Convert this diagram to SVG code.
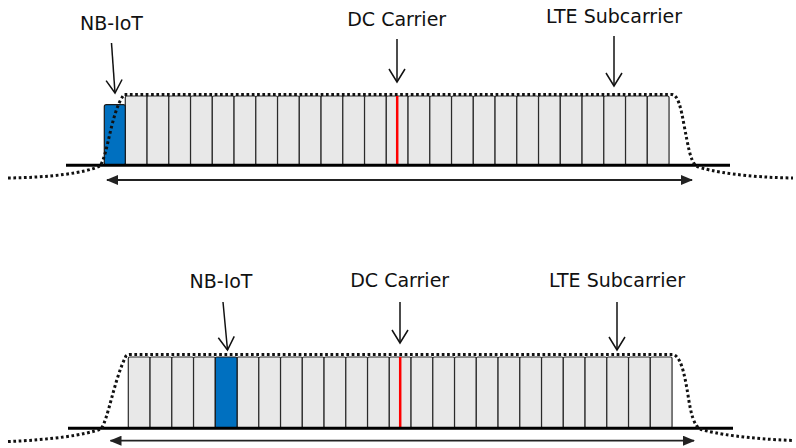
<svg xmlns="http://www.w3.org/2000/svg" xmlns:xlink="http://www.w3.org/1999/xlink" width="796" height="448" viewBox="0 0 796 448">
<style>
text{font-family:"DejaVu Sans","Liberation Sans",sans-serif;font-size:19px;fill:#111;text-anchor:middle}
.cell{fill:#e8e8e8;stroke:#2a2a2a;stroke-width:1.2}
.nb{fill:#0070c0;stroke:#1a1a1a;stroke-width:1.2}
.dc{stroke:#ff0000;stroke-width:2.5}
.base{stroke:#000;stroke-width:3}
.env{fill:none;stroke:#111;stroke-width:3;stroke-dasharray:2.7 2.6}
.ptr{stroke:#111;stroke-width:1.5;fill:none;marker-end:url(#vee)}
.bw{stroke:#222;stroke-width:1.8;marker-start:url(#tri);marker-end:url(#tri)}
</style>
<defs>
<marker id="vee" viewBox="0 0 16 18" refX="14" refY="9" markerWidth="16" markerHeight="18" markerUnits="userSpaceOnUse" orient="auto">
<path d="M1,1 L14,9 L1,17" fill="none" stroke="#111" stroke-width="1.5"/>
</marker>
<marker id="tri" viewBox="0 0 12 10" refX="11" refY="5" markerWidth="12" markerHeight="10" markerUnits="userSpaceOnUse" orient="auto-start-reverse">
<path d="M0,0 L12,5 L0,10 z" fill="#222"/>
</marker>
<rect id="c1" class="cell" x="0" y="96" width="21.75" height="69" rx="1.5"/>
<rect id="c2" class="cell" x="0" y="357" width="21.75" height="71" rx="1.5"/>
</defs>

<g id="top-band">
<g id="top-cells">
<use xlink:href="#c1" x="125.3"/><use xlink:href="#c1" x="147.05"/><use xlink:href="#c1" x="168.8"/><use xlink:href="#c1" x="190.55"/><use xlink:href="#c1" x="212.3"/><use xlink:href="#c1" x="234.05"/><use xlink:href="#c1" x="255.8"/><use xlink:href="#c1" x="277.55"/><use xlink:href="#c1" x="299.3"/><use xlink:href="#c1" x="321.05"/><use xlink:href="#c1" x="342.8"/><use xlink:href="#c1" x="364.55"/><use xlink:href="#c1" x="386.3"/><use xlink:href="#c1" x="408.05"/><use xlink:href="#c1" x="429.8"/><use xlink:href="#c1" x="451.55"/><use xlink:href="#c1" x="473.3"/><use xlink:href="#c1" x="495.05"/><use xlink:href="#c1" x="516.8"/><use xlink:href="#c1" x="538.55"/><use xlink:href="#c1" x="560.3"/><use xlink:href="#c1" x="582.05"/><use xlink:href="#c1" x="603.8"/><use xlink:href="#c1" x="625.55"/><use xlink:href="#c1" x="647.3"/>
</g>
<g id="top-nbiot"><rect class="nb" x="104.3" y="104.7" width="21" height="60.3" rx="2"/></g>
<g id="top-dc"><line class="dc" x1="397.2" y1="96" x2="397.2" y2="164"/></g>
<g id="top-base"><line class="base" x1="66" y1="165.3" x2="730" y2="165.3"/></g>
<g id="top-envelope"><path class="env" d="M8,178 C50,177.5 85,173 100,166 C108,155 111,112 124,94.5 L672,94.5 C678,95 681,108 684,125 C688,145 690,160 696,166 C710,172 750,177.5 793,178"/></g>
</g>

<g id="bottom-band">
<g id="bottom-cells">
<use xlink:href="#c2" x="128.3"/><use xlink:href="#c2" x="150.05"/><use xlink:href="#c2" x="171.8"/><use xlink:href="#c2" x="193.55"/><use xlink:href="#c2" x="237.05"/><use xlink:href="#c2" x="258.8"/><use xlink:href="#c2" x="280.55"/><use xlink:href="#c2" x="302.3"/><use xlink:href="#c2" x="324.05"/><use xlink:href="#c2" x="345.8"/><use xlink:href="#c2" x="367.55"/><use xlink:href="#c2" x="389.3"/><use xlink:href="#c2" x="411.05"/><use xlink:href="#c2" x="432.8"/><use xlink:href="#c2" x="454.55"/><use xlink:href="#c2" x="476.3"/><use xlink:href="#c2" x="498.05"/><use xlink:href="#c2" x="519.8"/><use xlink:href="#c2" x="541.55"/><use xlink:href="#c2" x="563.3"/><use xlink:href="#c2" x="585.05"/><use xlink:href="#c2" x="606.8"/><use xlink:href="#c2" x="628.55"/><use xlink:href="#c2" x="650.3"/>
</g>
<g id="bottom-nbiot"><rect class="nb" x="215.3" y="357" width="21.75" height="71" rx="1.5"/></g>
<g id="bottom-dc"><line class="dc" x1="400.2" y1="357" x2="400.2" y2="427"/></g>
<g id="bottom-base"><line class="base" x1="68" y1="428.3" x2="733" y2="428.3"/></g>
<g id="bottom-envelope"><path class="env" d="M8,441.5 C50,440 85,435 101,429 C108,420 114,380 126,356 C127,355 128,354.5 130,354.5 L673,354.5 C680,356 684,370 688,395 C691,415 694,425 700,429 C715,434 750,439 793,440.5"/></g>
</g>

<g id="labels">
<text x="111.5" y="30">NB-IoT</text>
<text x="396.7" y="26">DC Carrier</text>
<text x="614" y="22.5">LTE Subcarrier</text>
<text x="221" y="288">NB-IoT</text>
<text x="399.7" y="287.3">DC Carrier</text>
<text x="617" y="286.7">LTE Subcarrier</text>
</g>

<g id="connectors">
<line class="ptr" x1="111.5" y1="43" x2="115" y2="93"/>
<line class="ptr" x1="397" y1="39" x2="397" y2="82"/>
<line class="ptr" x1="614" y1="36" x2="614" y2="86"/>
<line class="ptr" x1="223" y1="302" x2="227.5" y2="350"/>
<line class="ptr" x1="400" y1="302" x2="400" y2="343"/>
<line class="ptr" x1="617" y1="302" x2="617" y2="350"/>
<line class="bw" x1="107" y1="180" x2="692" y2="180"/>
<line class="bw" x1="110.5" y1="440.7" x2="694" y2="440.7"/>
</g>
</svg>
